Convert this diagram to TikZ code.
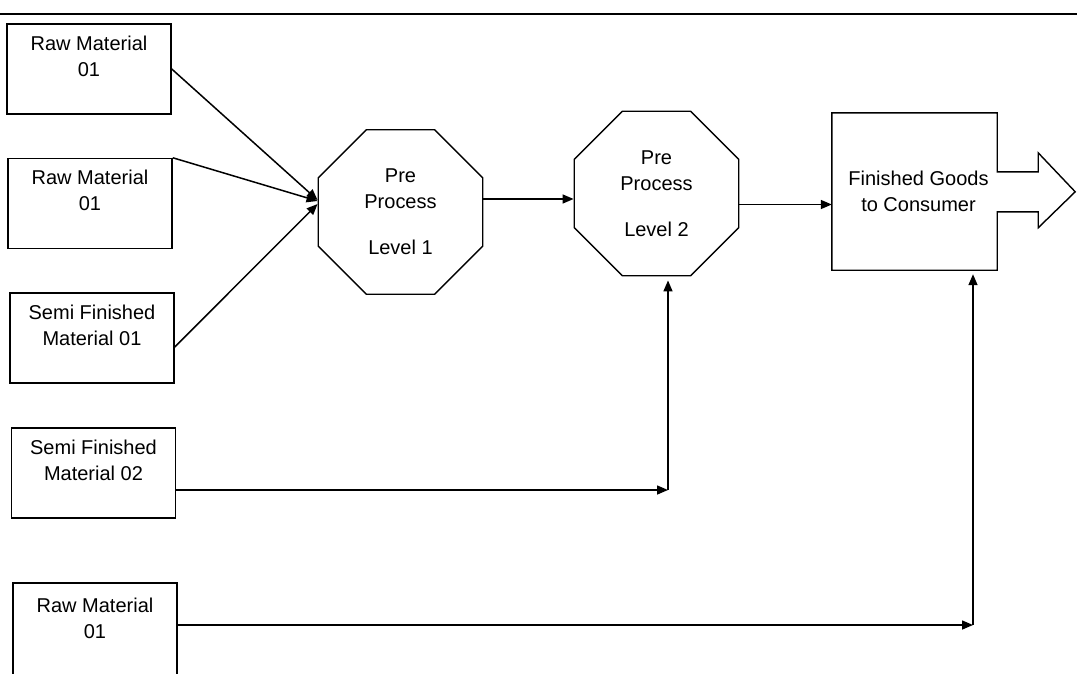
\documentclass[tikz,border=0pt]{standalone}
\usepackage{fontspec}
\setmainfont{Liberation Sans}
\usetikzlibrary{shapes.geometric,arrows.meta}

\tikzset{
  matbox/.style={draw, line width=1.5pt, minimum width=164pt, minimum height=90pt,
    inner sep=0pt, align=center, font=\fontsize{20}{26}\selectfont},
  prococt/.style={draw, line width=1.4pt, regular polygon, regular polygon sides=8,
    minimum size=178pt, inner sep=0pt, align=center, font=\fontsize{20}{26}\selectfont},
  goalbox/.style={minimum width=165pt, minimum height=157pt, inner sep=0pt,
    align=center, font=\fontsize{20}{26}\selectfont},
  flowarrow/.style={line width=1.5pt, -{Triangle[length=11pt,width=9pt]}},
}

\begin{document}
\begin{tikzpicture}[x=1pt,y=-1pt]
\useasboundingbox (0,0) rectangle (1077,673);
\draw[line width=1.2pt] (0,14) -- (1077,14);

% inputs
\node (rm1) [matbox] at (89,69) {Raw Material\\01\\~};
\node (rm2) [matbox] at (90,203.5) {Raw Material\\01\\~};
\node (sf1) [matbox] at (92,338) {Semi Finished\\Material 01\\~};
\node (sf2) [matbox] at (93.5,473) {Semi Finished\\Material 02\\~};
\node (rm3) [matbox, minimum height=96pt] at (95,631) {Raw Material\\01\\~};

% processes
\node (pp1) [prococt] at (400.5,212) {Pre\\Process\\[20pt]Level 1};
\node (pp2) [prococt] at (656.5,193.5) {Pre\\Process\\[20pt]Level 2};

% output
\node (fg) [goalbox] at (914.5,191.5) {\hspace*{8pt}Finished Goods\\\hspace*{8pt}to Consumer};
\draw[line width=1.4pt] (fg.north west) -- (fg.north east) -- ++(0,59) -- ++(41,0)
  -- ++(0,-19) -- ++(37,39) -- ++(-37,36) -- ++(0,-16) -- ++(-41,0)
  -- (fg.south east) -- (fg.south west) -- cycle;

\coordinate (c1) at (668,490);
\coordinate (c2) at (973,625);

% arrows
\draw[flowarrow] (rm1.east) -- ([yshift=12pt]pp1.west);
\draw[flowarrow] (rm2.north east) -- ([yshift=11pt]pp1.west);
\draw[flowarrow] ([yshift=-9pt]sf1.east) -- ([yshift=8pt]pp1.west);
\draw[flowarrow] ([yshift=13pt]pp1.east) -- ([yshift=13pt]pp1.east -| pp2.west);
\draw[flowarrow] ([yshift=-11pt]pp2.east) -- ([yshift=-11pt]pp2.east -| fg.west);
\draw[flowarrow] ([yshift=-17pt]sf2.east) -- (c1);
\draw[flowarrow, shorten >=4pt] (c1) -- (c1 |- pp2.south);
\draw[flowarrow] ([yshift=6pt]rm3.east) -- (c2);
\draw[flowarrow, shorten >=4pt] (c2) -- (c2 |- fg.south);
\end{tikzpicture}
\end{document}
